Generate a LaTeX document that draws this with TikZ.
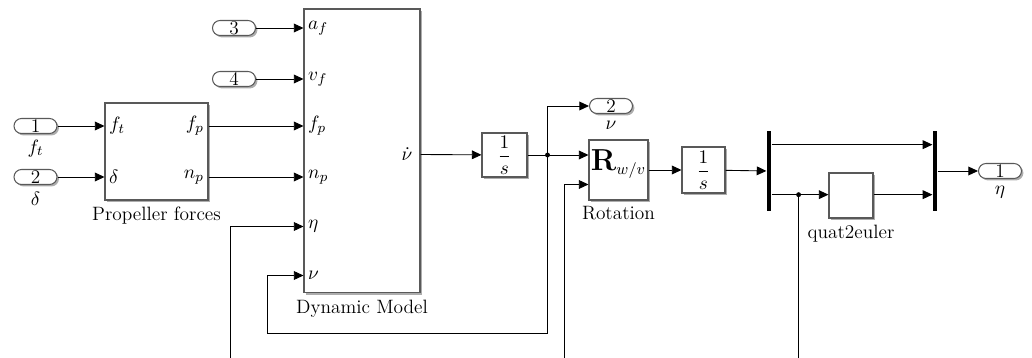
\documentclass[tikz,border=0pt]{standalone}
\usepackage{amsmath}
\usetikzlibrary{arrows.meta,calc,shadows}
\definecolor{BlockClr}{rgb}{0.35,0.35,0.35}
\definecolor{ShadowClr}{rgb}{0.6,0.6,0.6}

\tikzset{
  block/.style={draw=BlockClr,fill=white,line width=0.6pt,inner sep=0pt,
    drop shadow={shadow xshift=1.1pt,shadow yshift=-1.1pt,fill=ShadowClr,opacity=0.8}},
  port/.style={block,rounded corners=0.15cm,minimum width=0.86cm,minimum height=0.3cm},
  bus/.style={fill=black,inner sep=0pt,minimum width=0.09cm,minimum height=1.6cm},
  sig/.style={line width=0.5pt,-{Triangle[length=5.5pt,width=5pt]}},
  wire/.style={line width=0.5pt},
  plab/.style={inner sep=2.5pt},
  junc/.style={circle,fill=black,inner sep=0pt,minimum size=2.8pt}
}

\begin{document}
\begin{tikzpicture}[x=0.02cm,y=-0.02cm,every node/.style={font=\fontsize{11pt}{13pt}\selectfont}]
\useasboundingbox (0,0) rectangle (1032,358);

\node[port,label={[inner sep=1pt,label distance=2pt]below:$f_t$}] (in1) at (35.5,126) {1};
\node[port,label={[inner sep=1pt,label distance=3pt]below:$\delta$}] (in2) at (35.5,177) {2};
\node[port] (in3) at (234,28) {3};
\node[port] (in4) at (234,79) {4};
\node[port,label={[inner sep=1pt,label distance=3pt]below:$\nu$}] (out2) at (611,106) {2};
\node[port,label={[inner sep=1pt,label distance=3pt]below:$\eta$}] (out1) at (1000,171) {1};

\node[block,minimum width=2.06cm,minimum height=1.94cm,label=below:Propeller forces] (prop) at (156.5,151.5) {};
\node[block,minimum width=2.32cm,minimum height=5.68cm,label=below:Dynamic Model] (dyn) at (362,151) {};
\node[block,minimum width=0.9cm,minimum height=0.88cm] (int1) at (504.5,155) {$\dfrac{1}{s}$};
\node[block,minimum width=1.18cm,minimum height=1.2cm,label=below:Rotation] (rot) at (618.5,170) {};
\node[block,minimum width=0.86cm,minimum height=0.92cm] (int2) at (703.5,170) {$\dfrac{1}{s}$};
\node[block,minimum width=0.88cm,minimum height=0.9cm,label=below:quat2euler] (q2e) at (851,195.5) {};
\node[bus] (demux) at (769,171) {};
\node[bus] (mux) at (935,171) {};

\node[inner sep=0pt,font=\fontsize{18pt}{20pt}\selectfont] at ($(rot.center)+(0,-6)$) {$\mathbf{R}_{\scriptscriptstyle w/v}$};

\coordinate (dyn-af) at (dyn.west |- in3);
\coordinate (dyn-vf) at (dyn.west |- in4);
\coordinate (dyn-fp) at (dyn.west |- in1);
\coordinate (dyn-np) at (dyn.west |- in2);
\coordinate (dyn-eta) at ($(dyn.north west)+(0,218)$);
\coordinate (dyn-nu) at ($(dyn.north west)+(0,267)$);
\coordinate (dyn-nudot) at ($(dyn.north east)+(0,146)$);
\coordinate (rot-in2) at ($(rot.north west)+(0,45)$);
\coordinate (dm-1) at ($(demux.north east)+(0,14)$);
\coordinate (dm-2) at ($(demux.north east)+(0,64)$);

\node[plab,anchor=west] at (prop.west |- in1) {$f_t$};
\node[plab,anchor=west] at (prop.west |- in2) {$\delta$};
\node[plab,anchor=east] at (prop.east |- in1) {$f_p$};
\node[plab,anchor=east] at (prop.east |- in2) {$n_p$};

\node[plab,anchor=west] at (dyn-af) {$a_f$};
\node[plab,anchor=west] at (dyn-vf) {$v_f$};
\node[plab,anchor=west] at (dyn-fp) {$f_p$};
\node[plab,anchor=west] at (dyn-np) {$n_p$};
\node[plab,anchor=west] at (dyn-eta) {$\eta$};
\node[plab,anchor=west] at (dyn-nu) {$\nu$};
\node[plab,anchor=east,inner sep=4.5pt] at (dyn-nudot) {$\dot{\nu}$};

\node[junc] (j1) at ($(int1.east)+(20,0)$) {};
\node[junc] (j2) at ($(dm-2)+(27,0)$) {};
\coordinate (eta-in) at (230,358);
\coordinate (pos-in) at (564,358);
\coordinate (nu-back) at (267,333);

\draw[sig] (in1) -- (prop.west |- in1);
\draw[sig] (in2) -- (prop.west |- in2);
\draw[sig] (prop.east |- in1) -- (dyn-fp);
\draw[sig] (prop.east |- in2) -- (dyn-np);
\draw[sig] (in3) -- (dyn-af);
\draw[sig] (in4) -- (dyn-vf);
\draw[sig] (eta-in) |- (dyn-eta);
\draw[sig] (dyn-nudot) -- (int1);

\draw[wire] (int1) -- (j1.center);
\draw[sig] (j1.center) -- (rot.west |- j1);
\draw[sig] (j1.center) |- (out2);
\draw[sig] (j1.center) |- (nu-back) |- (dyn-nu);
\draw[sig] (pos-in) |- (rot-in2);

\draw[sig] (rot) -- (int2);
\draw[sig] (int2) -- (demux);
\draw[sig] (dm-1) -- (mux.west |- dm-1);
\draw[wire] (dm-2) -- (j2.center);
\draw[sig] (j2.center) -- (q2e.west |- j2);
\draw[sig] (q2e.east |- j2) -- (mux.west |- j2);
\draw[wire] (j2.center) -- (j2 |- pos-in);
\draw[sig] (mux) -- (out1);

\end{tikzpicture}
\end{document}
